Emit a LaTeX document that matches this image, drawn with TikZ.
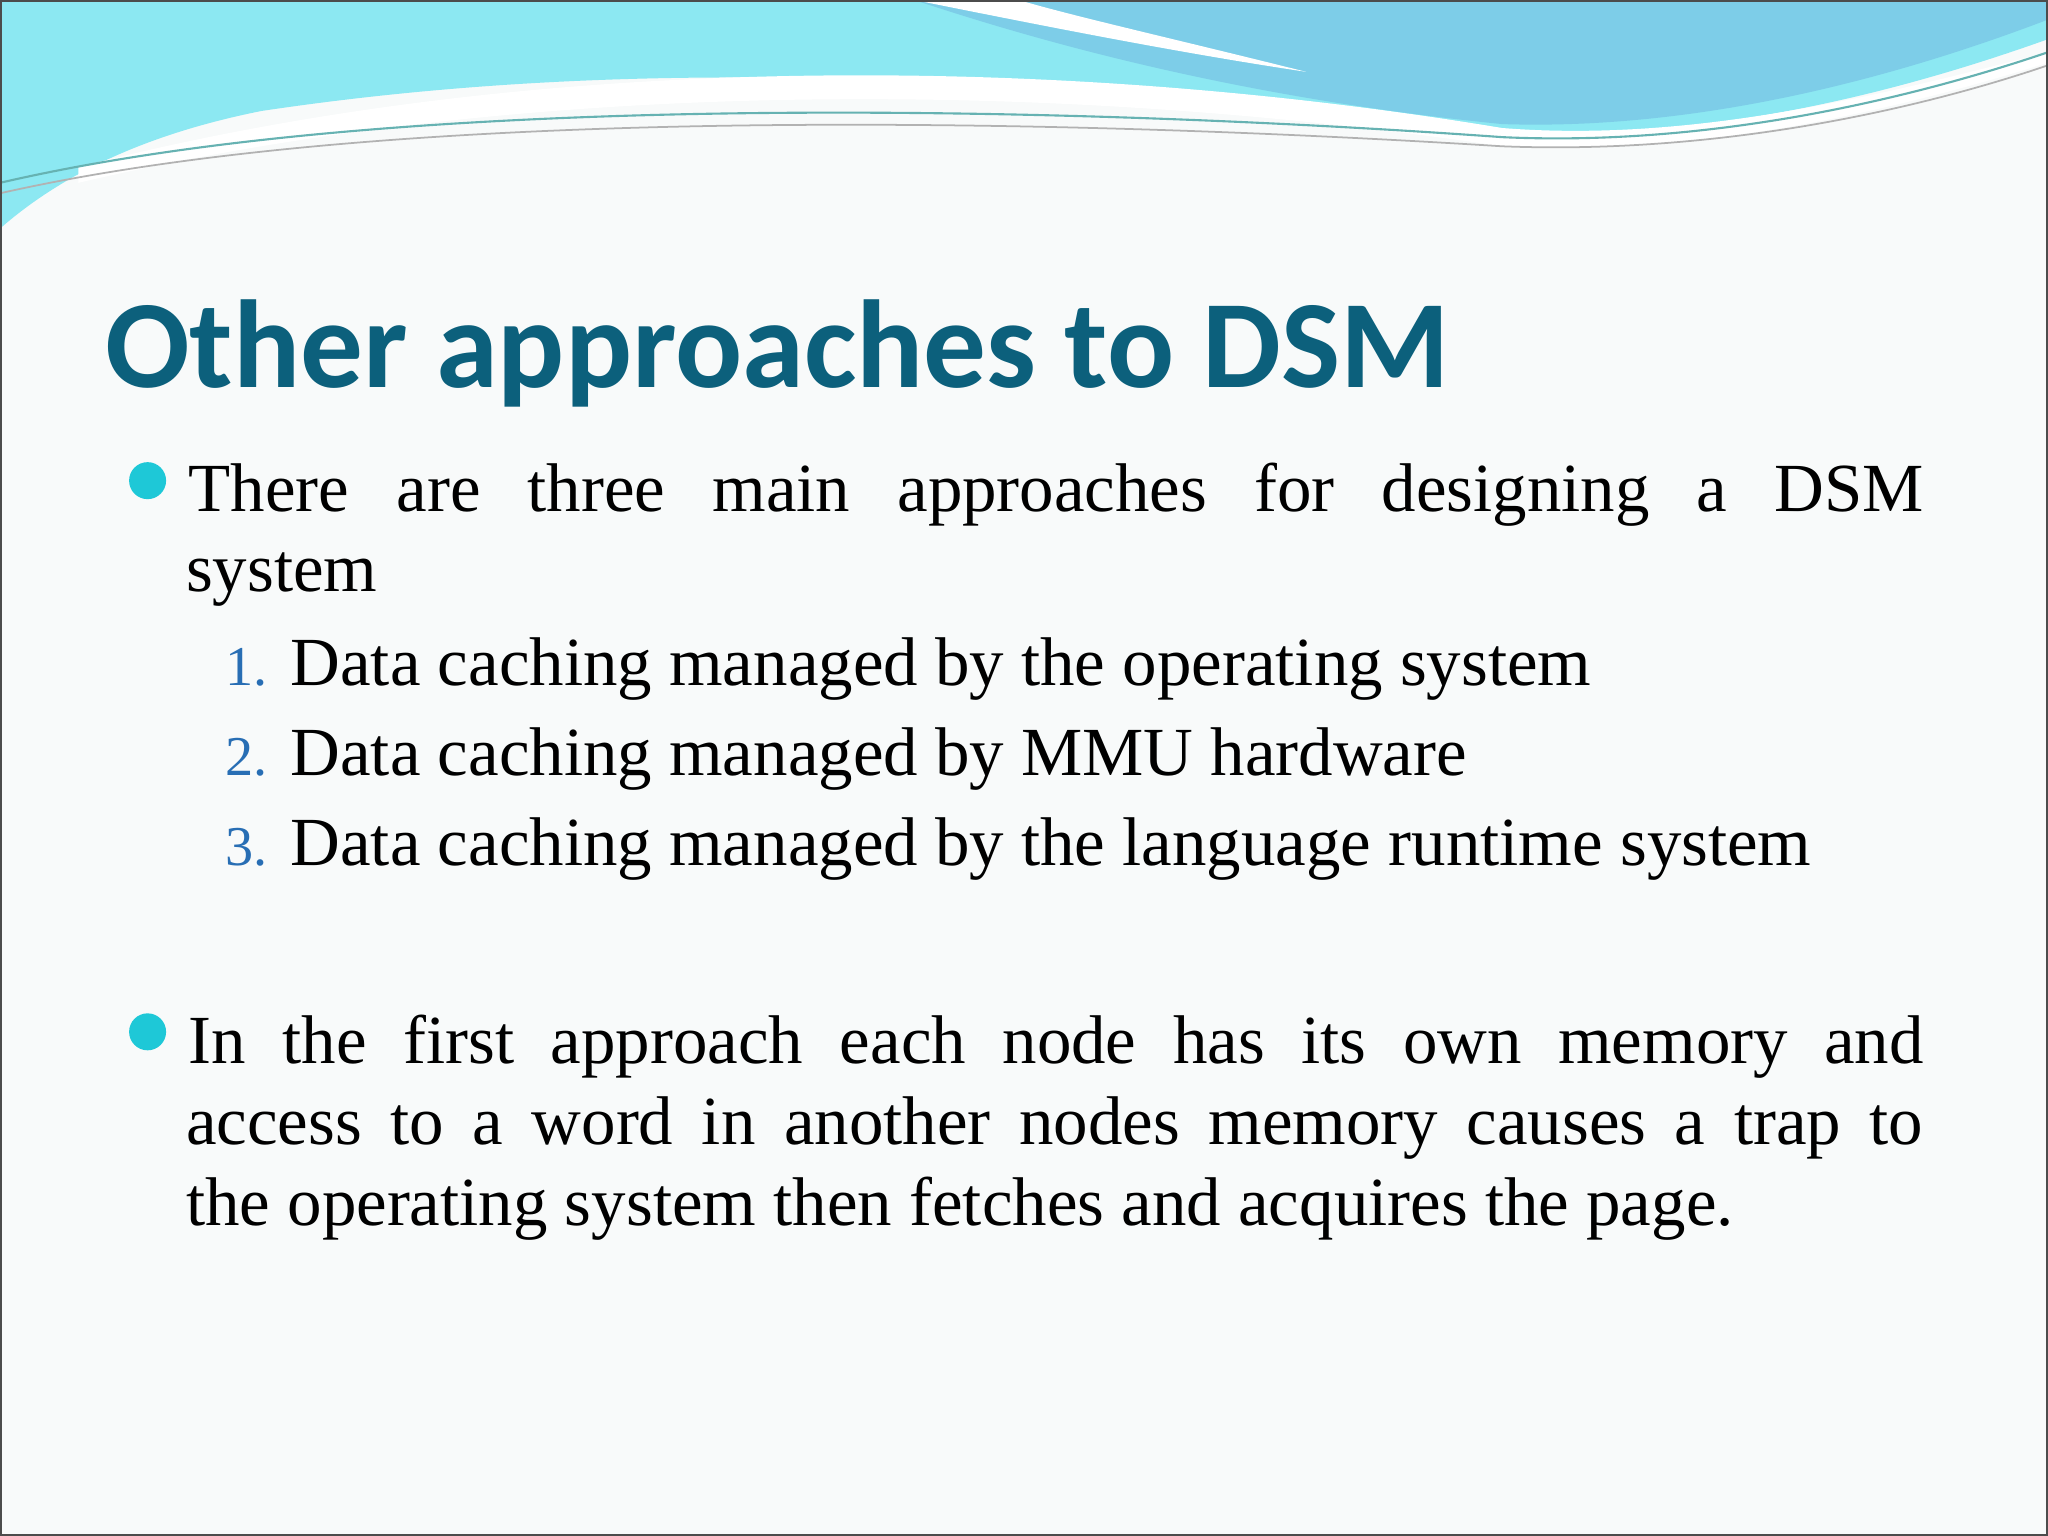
\documentclass[tikz,border=0pt]{standalone}
\usepackage{fontspec}
\setmainfont{Liberation Serif}
\newfontfamily\titlefont{Carlito}
\definecolor{titleblue}{RGB}{12,96,124}
\definecolor{bul}{RGB}{30,200,215}
\definecolor{numblue}{RGB}{40,110,180}
\definecolor{bg}{RGB}{248,250,250}
\definecolor{cyanA}{RGB}{140,232,242}
\definecolor{blueB}{RGB}{125,205,232}
\tikzset{
  line/.style={anchor=base west,inner sep=0pt,font=\fontsize{19.6}{24}\selectfont},
  numl/.style={anchor=base west,inner sep=0pt,font=\fontsize{16}{20}\selectfont,text=numblue},
  bulletdot/.style={circle,fill=bul,minimum size=0.37cm,inner sep=0pt}
}
\begin{document}
\begin{tikzpicture}[x=0.01306cm,y=-0.01306cm]
\useasboundingbox (0,0) rectangle (1568,1176);
\fill[bg] (0,0) rectangle (1568,1176);
% waves
\fill[cyanA] (0,0)--(1568,0)--(1568,30) .. controls (1400,90) and (1250,112) .. (1100,100)
  .. controls (800,60) and (500,40) .. (200,85) .. controls (100,105) and (40,140) .. (0,175) -- cycle;
\fill[white] (60,128) .. controls (400,40) and (800,40) .. (1150,98) .. controls (1300,110) and (1450,70) .. (1568,40)
  -- (1568,48) .. controls (1450,85) and (1300,120) .. (1150,112) .. controls (800,60) and (400,60) .. (60,140) -- cycle;
\fill[blueB] (700,0) .. controls (850,50) and (1000,80) .. (1150,95) .. controls (1300,100) and (1450,60) .. (1568,15) -- (1568,0) -- cycle;
\fill[white] (700,0) .. controls (800,20) and (900,40) .. (1000,55) .. controls (900,30) and (820,12) .. (780,0) -- cycle;
\draw[teal!60,line width=0.6pt] (0,140) .. controls (300,70) and (800,80) .. (1150,105) .. controls (1300,112) and (1450,80) .. (1568,40);
\draw[gray!60,line width=0.5pt] (0,148) .. controls (300,80) and (800,90) .. (1150,112) .. controls (1300,118) and (1450,90) .. (1568,50);
\draw[black!70,line width=0.6pt] (0.5,0.5) rectangle (1567.5,1175.5);
% title
\node[anchor=base west,inner sep=0pt,font=\titlefont\bfseries\fontsize{35.6}{40}\selectfont,text=titleblue] (title) at (80,297) {Other approaches to DSM};
% bullet 1
\node[bulletdot] (b1) at (113,368) {};
\node[line] (l1) at (144,392) {\hbox to 17.35cm{\spaceskip=0pt plus 1fil There are three main approaches for designing a DSM}};
\node[line] (l2) at (142,453) {system};
\node[numl] (n1) at (172,525) {1.};
\node[line] (i1) at (222,525) {Data caching managed by the operating system};
\node[numl] (n2) at (172,594) {2.};
\node[line] (i2) at (222,594) {Data caching managed by MMU hardware};
\node[numl] (n3) at (172,663) {3.};
\node[line] (i3) at (222,663) {Data caching managed by the language runtime system};
% bullet 2
\node[bulletdot] (b2) at (113,790) {};
\node[line] (p1) at (144,814) {\hbox to 17.35cm{\spaceskip=0pt plus 1fil In the first approach each node has its own memory and}};
\node[line] (p2) at (142,876) {\hbox to 17.37cm{\spaceskip=0pt plus 1fil access to a word in another nodes memory causes a trap to}};
\node[line] (p3) at (142,938) {the operating system then fetches and acquires the page.};
\end{tikzpicture}
\end{document}
